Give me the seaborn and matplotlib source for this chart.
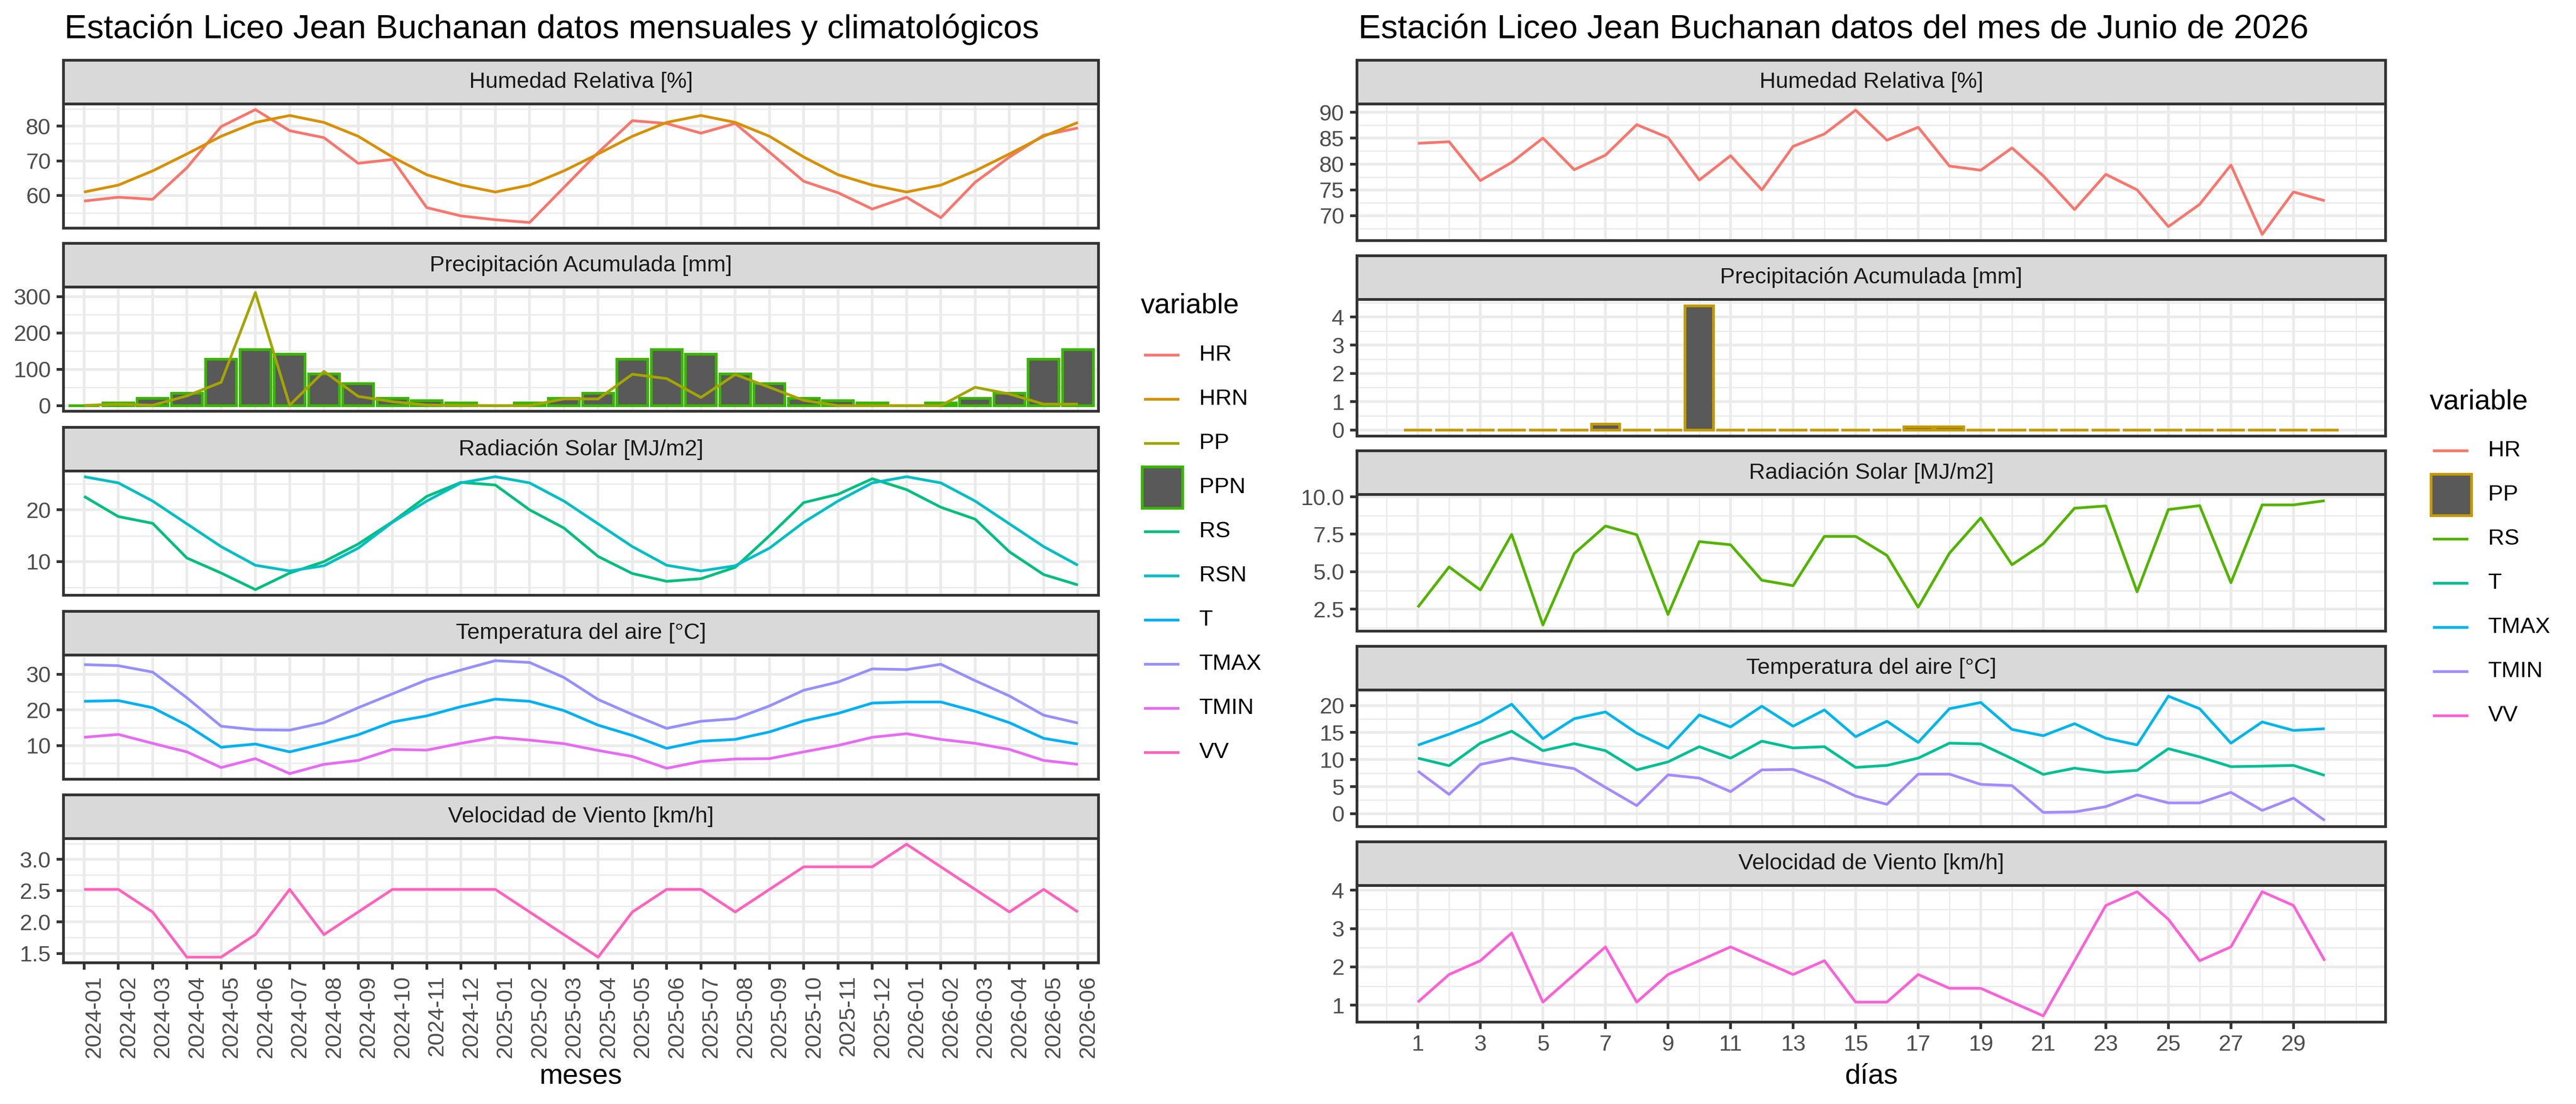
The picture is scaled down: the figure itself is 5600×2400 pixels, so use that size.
import numpy as np
import pandas as pd
import matplotlib
matplotlib.use("Agg")
import matplotlib.pyplot as plt
import seaborn as sns
from matplotlib.ticker import AutoMinorLocator, FixedLocator
from matplotlib.lines import Line2D
from matplotlib.patches import Rectangle

plt.rcParams['font.family'] = ['Liberation Sans', 'DejaVu Sans']

# ---------------- data: monthly chart ----------------
meses = ["2024-01", "2024-02", "2024-03", "2024-04", "2024-05", "2024-06",
         "2024-07", "2024-08", "2024-09", "2024-10", "2024-11", "2024-12",
         "2025-01", "2025-02", "2025-03", "2025-04", "2025-05", "2025-06",
         "2025-07", "2025-08", "2025-09", "2025-10", "2025-11", "2025-12",
         "2026-01", "2026-02", "2026-03", "2026-04", "2026-05", "2026-06"]

HR_m = [58.4, 59.5, 58.9, 68.0, 79.9, 84.8, 78.7, 76.7, 69.3, 70.4, 56.5, 54.1,
        53.0, 52.2, 62.3, 72.4, 81.6, 80.8, 78.0, 80.8, 72.5, 64.1, 60.8, 56.1,
        59.5, 53.6, 63.8, 71.1, 77.4, 79.5]
HRN_m = [61.0, 63.0, 67.1, 72.0, 77.1, 81.1, 83.1, 81.1, 77.1, 71.1, 66.0, 63.0,
         61.0, 63.0, 67.1, 72.0, 77.1, 81.1, 83.1, 81.1, 77.1, 71.1, 66.0, 63.0,
         61.0, 63.0, 67.1, 72.0, 77.1, 81.1]
PP_m = [0.5, 3.8, 1.0, 26.7, 64.2, 311.0, 1.0, 94.3, 25.4, 10.8, 1.7, 0.5,
        0.0, 0.0, 18.4, 18.4, 86.4, 74.4, 22.4, 85.6, 50.4, 14.4, 0.0, 0.0,
        0.0, 0.0, 50.4, 32.0, 4.0, 4.0]
PPN_m = [0.0, 7.0, 20.0, 34.0, 128.0, 154.0, 141.0, 87.0, 60.0, 20.0, 13.0, 7.0,
         0.0, 7.0, 20.0, 34.0, 128.0, 154.0, 141.0, 87.0, 60.0, 20.0, 13.0, 7.0,
         0.0, 7.0, 20.0, 34.0, 128.0, 154.0]
RS_m = [22.6, 18.7, 17.4, 10.7, 7.8, 4.6, 7.8, 10.0, 13.4, 17.7, 22.6, 25.3,
        24.8, 20.0, 16.5, 11.0, 7.7, 6.2, 6.7, 8.9, 15.0, 21.4, 23.0, 26.0,
        23.9, 20.5, 18.2, 11.9, 7.5, 5.5]
RSN_m = [26.4, 25.2, 21.7, 17.3, 12.9, 9.3, 8.2, 9.2, 12.6, 17.6, 21.7, 25.2,
         26.4, 25.2, 21.7, 17.3, 12.9, 9.3, 8.2, 9.2, 12.6, 17.6, 21.7, 25.2,
         26.4, 25.2, 21.7, 17.3, 12.9, 9.3]
T_m = [22.4, 22.6, 20.6, 15.7, 9.5, 10.4, 8.2, 10.5, 13.0, 16.6, 18.3, 20.9,
       23.0, 22.4, 19.8, 15.7, 12.8, 9.2, 11.2, 11.7, 13.8, 16.9, 19.0, 21.9,
       22.2, 22.2, 19.6, 16.4, 12.0, 10.4]
TMAX_m = [32.7, 32.4, 30.6, 23.4, 15.4, 14.4, 14.3, 16.4, 20.6, 24.5, 28.4, 31.2,
          33.8, 33.3, 29.1, 22.9, 18.7, 14.8, 16.8, 17.5, 21.1, 25.5, 27.8, 31.5,
          31.3, 32.8, 28.2, 23.9, 18.5, 16.3]
TMIN_m = [12.3, 13.1, 10.6, 8.2, 3.8, 6.3, 2.1, 4.7, 5.8, 8.9, 8.7, 10.6,
          12.3, 11.5, 10.5, 8.6, 6.9, 3.6, 5.5, 6.2, 6.3, 8.2, 10.0, 12.3,
          13.3, 11.7, 10.6, 8.9, 5.8, 4.7]
VV_m = [2.52, 2.52, 2.16, 1.44, 1.44, 1.80, 2.52, 1.80, 2.16, 2.52, 2.52, 2.52,
        2.52, 2.16, 1.80, 1.44, 2.16, 2.52, 2.52, 2.16, 2.52, 2.88, 2.88, 2.88,
        3.24, 2.88, 2.52, 2.16, 2.52, 2.16]

# ---------------- data: daily chart (June 2026) ----------------
dias = list(range(1, 31))
dias_ticks = [1, 3, 5, 7, 9, 11, 13, 15, 17, 19, 21, 23, 25, 27, 29]
HR_d = [84.0, 84.3, 76.8, 80.3, 85.0, 78.9, 81.7, 87.6, 85.1, 76.9, 81.6, 75.0,
        83.4, 85.8, 90.4, 84.6, 87.1, 79.6, 78.8, 83.1, 77.7, 71.2, 78.0, 75.0,
        67.9, 72.2, 79.8, 66.4, 74.6, 72.9]
PP_d = [0, 0, 0, 0, 0, 0, 0.2, 0, 0, 4.4, 0, 0, 0, 0, 0, 0, 0.1, 0.1, 0, 0,
        0, 0, 0, 0, 0, 0, 0, 0, 0, 0]
RS_d = [2.63, 5.32, 3.78, 7.49, 1.45, 6.21, 8.05, 7.47, 2.15, 7.01, 6.80, 4.43,
        4.07, 7.36, 7.36, 6.09, 2.63, 6.24, 8.59, 5.47, 6.86, 9.24, 9.39, 3.66,
        9.15, 9.41, 4.27, 9.46, 9.46, 9.74]
T_d = [10.26, 8.87, 13.03, 15.24, 11.64, 12.94, 11.64, 8.09, 9.57, 12.38, 10.26, 13.4,
       12.15, 12.38, 8.55, 8.92, 10.26, 13.03, 12.89, 10.17, 7.26, 8.41, 7.63, 8.0,
       12.01, 10.49, 8.69, 8.78, 8.92, 7.07]
TMAX_d = [12.66, 14.69, 16.95, 20.23, 13.86, 17.55, 18.8, 14.88, 12.1, 18.25, 16.03, 19.86,
          16.17, 19.17, 14.23, 17.09, 13.17, 19.4, 20.55, 15.57, 14.41, 16.63, 13.95, 12.71,
          21.71, 19.4, 13.03, 16.95, 15.38, 15.7]
TMIN_d = [7.86, 3.56, 9.1, 10.26, 9.24, 8.32, 4.86, 1.49, 7.17, 6.57, 4.07, 8.09,
          8.18, 6.01, 3.24, 1.72, 7.31, 7.31, 5.41, 5.18, 0.23, 0.32, 1.29, 3.47,
          1.99, 1.99, 3.93, 0.6, 2.86, -1.25]
VV_d = [1.08, 1.80, 2.16, 2.88, 1.08, 1.80, 2.52, 1.08, 1.80, 2.16, 2.52, 2.16,
        1.80, 2.16, 1.08, 1.08, 1.80, 1.44, 1.44, 1.08, 0.72, 2.16, 3.60, 3.96,
        3.24, 2.16, 2.52, 3.96, 3.60, 2.16]

# ---------------- styling ----------------
pal_m = {"HR": "#F8766D", "HRN": "#D89000", "PP": "#A3A500", "PPN": "#39B600",
         "RS": "#00BF7D", "RSN": "#00BFC4", "T": "#00B0F6", "TMAX": "#9590FF",
         "TMIN": "#E76BF3", "VV": "#FF62BC"}
pal_d = {"HR": "#F8766D", "PP": "#C49A00", "RS": "#53B400", "T": "#00C094",
         "TMAX": "#00B6EB", "TMIN": "#A58AFF", "VV": "#FB61D7"}

W, H, DPI = 5600, 2400, 400
LW = 1.07
GRID = "#EBEBEB"
DARK = "#333333"
BARFILL = "#595959"

fig = plt.figure(figsize=(W / DPI, H / DPI), dpi=DPI)
fig.patch.set_facecolor("white")


def fx(x):
    return x / W


def fy(y):
    return 1 - y / H


def make_facet(x0, x1, top, sh, ph, label):
    sax = fig.add_axes([fx(x0), fy(top + sh), (x1 - x0) / W, sh / H])
    sax.set_facecolor("#D9D9D9")
    sax.set_xticks([])
    sax.set_yticks([])
    for s in sax.spines.values():
        s.set_color(DARK)
        s.set_linewidth(LW)
    sax.text(0.5, 0.5, label, ha="center", va="center", fontsize=8.8,
             color="#1A1A1A", transform=sax.transAxes)
    ax = fig.add_axes([fx(x0), fy(top + sh + ph), (x1 - x0) / W, ph / H])
    return ax


def style_panel(ax, yticks, yfmt, xlim, xticks, xminor, xlabels, bottom, vals):
    lo, hi = min(vals), max(vals)
    pad = (hi - lo) * 0.05
    ax.set_ylim(lo - pad, hi + pad)
    ax.set_xlim(*xlim)
    ax.set_facecolor("white")
    for s in ax.spines.values():
        s.set_color(DARK)
        s.set_linewidth(LW)
        s.set_zorder(10)
    ax.set_yticks(yticks)
    ax.set_yticklabels([yfmt.format(v) for v in yticks])
    ax.yaxis.set_minor_locator(AutoMinorLocator(2))
    ax.set_xticks(xticks)
    if xminor is not None:
        ax.xaxis.set_minor_locator(FixedLocator(xminor))
    ax.grid(True, which="major", color=GRID, linewidth=LW)
    ax.grid(True, which="minor", color=GRID, linewidth=LW / 2)
    ax.set_axisbelow(True)
    ax.tick_params(axis="y", which="major", length=2.75, width=LW, color=DARK,
                   labelsize=8.8, labelcolor="#4D4D4D", pad=2.2)
    ax.tick_params(which="minor", length=0)
    ax.set_xlabel("")
    ax.set_ylabel("")
    if bottom:
        ax.tick_params(axis="x", which="major", length=2.75, width=LW, color=DARK,
                       labelsize=8.8, labelcolor="#4D4D4D", pad=2.2)
        return
    ax.tick_params(axis="x", which="major", length=0, labelbottom=False)


def draw_lines(ax, x, series, pal):
    frames = [pd.DataFrame({"x": x, "value": v, "variable": k}) for k, v in series]
    df = pd.concat(frames, ignore_index=True)
    sns.lineplot(data=df, x="x", y="value", hue="variable",
                 hue_order=[k for k, _ in series],
                 palette={k: pal[k] for k, _ in series}, ax=ax, legend=False,
                 linewidth=LW, errorbar=None, solid_capstyle="butt", zorder=3)


def draw_bars(ax, x, vals, edge):
    sns.barplot(x=x, y=vals, native_scale=True, width=0.9, color=BARFILL,
                saturation=1, edgecolor=edge, linewidth=LW, errorbar=None, ax=ax,
                zorder=2)


# ---------------- left chart ----------------
idx = list(range(len(meses)))
LX0, LX1 = 138, 2388
ltops = [131, 529, 929, 1329, 1728]
LSH, LPH = 95, 270
lxlim = (-0.6, len(meses) - 1 + 0.6)

ax = make_facet(LX0, LX1, ltops[0], LSH, LPH, "Humedad Relativa [%]")
draw_lines(ax, idx, [("HR", HR_m), ("HRN", HRN_m)], pal_m)
style_panel(ax, [60, 70, 80], "{:.0f}", lxlim, idx, None, None, False, HR_m + HRN_m)

ax = make_facet(LX0, LX1, ltops[1], LSH, LPH, "Precipitación Acumulada [mm]")
draw_bars(ax, idx, PPN_m, pal_m["PPN"])
draw_lines(ax, idx, [("PP", PP_m)], pal_m)
style_panel(ax, [0, 100, 200, 300], "{:.0f}", lxlim, idx, None, None, False,
            PP_m + PPN_m + [0])

ax = make_facet(LX0, LX1, ltops[2], LSH, LPH, "Radiación Solar [MJ/m2]")
draw_lines(ax, idx, [("RS", RS_m), ("RSN", RSN_m)], pal_m)
style_panel(ax, [10, 20], "{:.0f}", lxlim, idx, None, None, False, RS_m + RSN_m)

ax = make_facet(LX0, LX1, ltops[3], LSH, LPH, "Temperatura del aire [°C]")
draw_lines(ax, idx, [("T", T_m), ("TMAX", TMAX_m), ("TMIN", TMIN_m)], pal_m)
style_panel(ax, [10, 20, 30], "{:.0f}", lxlim, idx, None, None, False,
            T_m + TMAX_m + TMIN_m)

ax = make_facet(LX0, LX1, ltops[4], LSH, LPH, "Velocidad de Viento [km/h]")
draw_lines(ax, idx, [("VV", VV_m)], pal_m)
style_panel(ax, [1.5, 2.0, 2.5, 3.0], "{:.1f}", lxlim, idx, None, None, True, VV_m)
ax.set_xticklabels(meses, rotation=90, ha="left", va="top")

# ---------------- right chart ----------------
RX0, RX1 = 2950, 5186
rtops = [131, 556, 980, 1405, 1830]
RSH, RPH = 95, 297
rxlim = (0.55 - 1.495, 30.45 + 1.495)
rminor = list(range(0, 31, 2)) + [31]

ax = make_facet(RX0, RX1, rtops[0], RSH, RPH, "Humedad Relativa [%]")
draw_lines(ax, dias, [("HR", HR_d)], pal_d)
style_panel(ax, [70, 75, 80, 85, 90], "{:.0f}", rxlim, dias_ticks, rminor, None, False, HR_d)

ax = make_facet(RX0, RX1, rtops[1], RSH, RPH, "Precipitación Acumulada [mm]")
draw_bars(ax, dias, PP_d, pal_d["PP"])
style_panel(ax, [0, 1, 2, 3, 4], "{:.0f}", rxlim, dias_ticks, rminor, None, False, PP_d + [0])

ax = make_facet(RX0, RX1, rtops[2], RSH, RPH, "Radiación Solar [MJ/m2]")
draw_lines(ax, dias, [("RS", RS_d)], pal_d)
style_panel(ax, [2.5, 5.0, 7.5, 10.0], "{:.1f}", rxlim, dias_ticks, rminor, None, False, RS_d)

ax = make_facet(RX0, RX1, rtops[3], RSH, RPH, "Temperatura del aire [°C]")
draw_lines(ax, dias, [("T", T_d), ("TMAX", TMAX_d), ("TMIN", TMIN_d)], pal_d)
style_panel(ax, [0, 5, 10, 15, 20], "{:.0f}", rxlim, dias_ticks, rminor, None, False,
            T_d + TMAX_d + TMIN_d)

ax = make_facet(RX0, RX1, rtops[4], RSH, RPH, "Velocidad de Viento [km/h]")
draw_lines(ax, dias, [("VV", VV_d)], pal_d)
style_panel(ax, [1, 2, 3, 4], "{:.0f}", rxlim, dias_ticks, rminor, None, True, VV_d)
ax.set_xticklabels([str(d) for d in dias_ticks])

# ---------------- titles ----------------
fig.text(fx(140), fy(83), "Estación Liceo Jean Buchanan datos mensuales y climatológicos",
         fontsize=13.2, ha="left", va="baseline", color="black")
fig.text(fx(2953), fy(83), "Estación Liceo Jean Buchanan datos del mes de Junio de 2026",
         fontsize=13.2, ha="left", va="baseline", color="black")
fig.text(fx((LX0 + LX1) / 2), fy(2341), "meses", fontsize=11, ha="center", va="center")
fig.text(fx((RX0 + RX1) / 2), fy(2340), "días", fontsize=11, ha="center", va="center")


# ---------------- legends ----------------
def legend(x_title, y_title, keys, pal, box_key, y0):
    fig.text(fx(x_title), fy(y_title), "variable", fontsize=11, ha="left", va="center")
    for k, name in enumerate(keys):
        yc = y0 + 96 * k
        if name == box_key:
            fig.add_artist(Rectangle((fx(x_title + 3), fy(yc + 45)), 88 / W, 90 / H,
                                     transform=fig.transFigure, facecolor=BARFILL,
                                     edgecolor=pal[name], linewidth=LW))
        else:
            fig.add_artist(Line2D([fx(x_title + 7), fx(x_title + 84)], [fy(yc), fy(yc)],
                                  transform=fig.transFigure, color=pal[name],
                                  linewidth=LW, solid_capstyle="butt"))
        fig.text(fx(x_title + 127), fy(yc), name, fontsize=8.8, ha="left", va="center")


legend(2480, 665, list(pal_m.keys()), pal_m, "PPN", 772)
legend(5282, 874, list(pal_d.keys()), pal_d, "PP", 980)

fig.savefig("out.png", dpi=DPI, facecolor="white")
